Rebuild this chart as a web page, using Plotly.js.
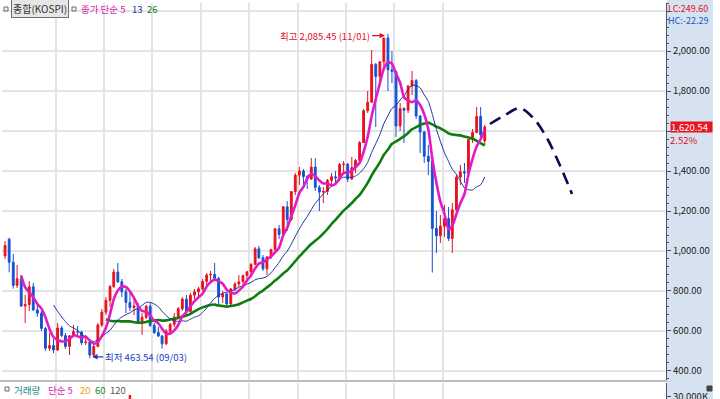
<!DOCTYPE html>
<html>
<head>
<meta charset="utf-8">
<script src="https://cdn.plot.ly/plotly-3.0.1.min.js"></script>
<style>html,body{margin:0;padding:0;background:#fff;}#chart{width:720px;height:399px;}</style>
</head>
<body>
<div id="chart"></div>
<script>
// ---- data (monthly KOSPI candles, Dec 1999 - Nov 2009) ----
const months = [
 '1999-12',
 '2000-01','2000-02','2000-03','2000-04','2000-05','2000-06','2000-07','2000-08','2000-09','2000-10','2000-11','2000-12',
 '2001-01','2001-02','2001-03','2001-04','2001-05','2001-06','2001-07','2001-08','2001-09','2001-10','2001-11','2001-12',
 '2002-01','2002-02','2002-03','2002-04','2002-05','2002-06','2002-07','2002-08','2002-09','2002-10','2002-11','2002-12',
 '2003-01','2003-02','2003-03','2003-04','2003-05','2003-06','2003-07','2003-08','2003-09','2003-10','2003-11','2003-12',
 '2004-01','2004-02','2004-03','2004-04','2004-05','2004-06','2004-07','2004-08','2004-09','2004-10','2004-11','2004-12',
 '2005-01','2005-02','2005-03','2005-04','2005-05','2005-06','2005-07','2005-08','2005-09','2005-10','2005-11','2005-12',
 '2006-01','2006-02','2006-03','2006-04','2006-05','2006-06','2006-07','2006-08','2006-09','2006-10','2006-11','2006-12',
 '2007-01','2007-02','2007-03','2007-04','2007-05','2007-06','2007-07','2007-08','2007-09','2007-10','2007-11','2007-12',
 '2008-01','2008-02','2008-03','2008-04','2008-05','2008-06','2008-07','2008-08','2008-09','2008-10','2008-11','2008-12',
 '2009-01','2009-02','2009-03','2009-04','2009-05','2009-06','2009-07','2009-08','2009-09','2009-10','2009-11'
];
const openP = [
 975,
 1059,944,828,861,725,732,821,706,689,613,514,527,
 505,615,577,523,576,597,595,541,545,480,522,630,
 694,753,822,895,846,796,743,717,725,646,669,724,
 628,592,575,536,599,633,670,711,759,698,779,796,
 811,848,880,883,863,770,786,735,810,835,846,878,
 896,933,1011,966,911,970,1008,1111,1083,1221,1158,1297,
 1379,1400,1372,1360,1420,1318,1295,1298,1353,1371,1365,1432,
 1434,1360,1417,1453,1542,1701,1744,1933,1873,1946,2065,1906,
 1897,1625,1712,1704,1825,1852,1675,1595,1474,1448,1113,1076,
 1124,1162,1063,1206,1369,1396,1390,1557,1592,1673,1550
];
const highP = [
 1050,
 1066,985,930,880,780,850,840,740,700,620,590,560,
 640,625,590,580,630,625,600,580,550,540,640,710,
 770,830,910,940,860,810,790,760,740,690,730,740,
 640,620,580,610,640,690,720,770,780,790,810,820,
 860,890,900,940,870,800,790,815,845,880,880,900,
 940,1020,1025,980,975,1010,1115,1130,1225,1250,1300,1390,
 1420,1410,1380,1465,1464,1330,1320,1360,1390,1400,1440,1450,
 1440,1470,1460,1550,1710,1800,2005,1940,1950,2065,2085.45,2000,
 1900,1740,1720,1830,1900,1860,1680,1600,1530,1450,1200,1180,
 1230,1220,1240,1380,1430,1440,1560,1610,1720,1720,1630
];
const lowP = [
 960,
 893,812,815,720,640,700,700,670,600,500,500,490,
 500,570,510,480,570,580,530,530,463.54,475,520,620,
 680,720,815,840,770,690,700,680,640,580,660,620,
 585,570,512,530,580,620,660,700,690,690,760,760,
 800,830,840,860,730,740,720,720,800,820,830,860,
 870,930,960,900,880,960,1000,1060,1080,1100,1150,1280,
 1330,1320,1310,1355,1300,1200,1240,1280,1320,1330,1350,1380,
 1345,1355,1390,1440,1540,1690,1740,1620,1840,1900,1800,1840,
 1570,1600,1540,1690,1780,1660,1490,1440,1380,892,990,1040,
 1070,1050,990,1200,1330,1340,1380,1540,1590,1560,1530
];
const closeP = [
 1028,
 944,828,861,725,732,821,706,689,613,514,527,505,
 615,577,523,576,597,595,541,545,480,522,630,694,
 753,822,895,846,796,743,717,725,646,669,724,628,
 592,575,536,599,633,670,711,759,698,779,796,811,
 848,880,883,863,770,786,735,810,835,846,878,896,
 933,1011,966,911,970,1008,1111,1083,1221,1158,1297,1379,
 1400,1372,1360,1420,1318,1295,1298,1353,1371,1365,1432,1434,
 1360,1417,1453,1542,1701,1744,1933,1873,1946,2065,1906,1897,
 1625,1712,1704,1825,1852,1675,1595,1474,1448,1113,1076,1124,
 1162,1063,1206,1369,1396,1390,1557,1592,1673,1581,1620.54
];
// moving-average lines (종가 단순 5 / 13 / 26)
const ma5 = [null,null,null,null,
 877,818,793,769,735,712,669,610,570,555,
 548,549,559,578,574,566,571,552,537,544,
 574,616,684,759,802,822,820,799,765,725,
 700,696,678,652,638,611,586,587,603,630,
 674,694,723,749,769,786,823,844,857,849,
 836,807,793,787,802,821,853,878,913,937,
 943,958,973,993,1017,1079,1116,1174,1228,1291,
 1321,1362,1386,1374,1353,1338,1337,1327,1336,1364,
 1391,1392,1402,1419,1441,1495,1571,1675,1759,1839,
 1912,1945,1937,1888,1841,1769,1753,1744,1754,1730,
 1684,1609,1461,1341,1247,1185,1108,1126,1185,1239,
 1285,1384,1461,1522,1559,1605];
const ma13 = [null,null,null,null,null,null,null,null,null,null,null,null,
 730,698,670,647,625,615,604,583,571,554,
 547,556,569,588,604,629,654,670,682,691,
 705,713,728,743,743,735,721,699,677,660,
 651,648,651,649,659,669,676,693,715,739,
 764,777,789,794,801,807,819,826,834,843,
 856,862,865,873,891,916,943,975,999,1034,
 1073,1111,1145,1172,1207,1238,1263,1286,1304,1326,
 1337,1358,1369,1368,1369,1375,1389,1411,1443,1493,
 1537,1582,1636,1677,1713,1728,1755,1777,1806,1829,
 1827,1816,1781,1748,1684,1608,1548,1491,1448,1409,
 1383,1350,1315,1306,1305,1321,1331,1370];
const ma26 = [null,null,null,null,null,null,null,null,null,null,null,null,null,
 null,null,null,null,null,null,null,null,null,null,null,null,
 659,651,649,650,648,648,648,644,642,641,
 645,650,652,655,652,653,657,661,665,671,
 677,686,698,709,718,725,730,732,727,725,
 722,725,729,734,743,752,760,774,789,802,
 818,834,852,868,888,903,926,949,973,994,
 1014,1035,1051,1068,1088,1110,1135,1156,1179,1202,
 1220,1240,1260,1281,1309,1341,1378,1411,1443,1481,
 1507,1536,1548,1561,1573,1590,1609,1619,1630,1637,
 1642,1633,1622,1613,1602,1588,1582,1580,1578,1572,
 1567,1561,1551,1539,1527];
// hand-drawn forecast (dashed)
const fcDates = ['2009-12-24','2010-04-18','2010-08-08','2010-11-30','2011-03-08','2011-06-05','2011-09-05'];
const fcValues = [1635,1680,1715,1655,1555,1430,1285];
// visible tip of the volume panel
const volDates = ['2002-07-15'];
const volValues = [30480];
// price axis ticks
const yTickVals = [400,600,800,1000,1200,1400,1600,1800,2000,2200];
const yTickText = ['400.00','600.00','800.00','1,000.00','1,200.00','1,400.00','','1,800.00','2,000.00',''];
const yearLines = ['2001-01-01','2002-01-01','2003-01-01','2004-01-01','2005-01-01','2006-01-01','2007-01-01','2008-01-01','2009-01-01'];

// ---- drawing ----
const xDates = months.map(m => m + '-15');
const FONT = "'Noto Sans CJK KR','Noto Sans',sans-serif";
const px = p => (p - 2) / 664;
const py = p => (399 - p) / 396;

const RED = '#e8121e', BLUE = '#1452d2';

const traces = [
  {type:'candlestick', x:xDates, open:openP, high:highP, low:lowP, close:closeP,
   increasing:{line:{color:RED,width:1}, fillcolor:RED},
   decreasing:{line:{color:BLUE,width:1}, fillcolor:BLUE},
   whiskerwidth:0, hoverinfo:'skip', showlegend:false},
  {type:'scatter', mode:'lines', x:xDates, y:ma26, line:{color:'#0d7d0d', width:2.6, shape:'spline', smoothing:0.6}, hoverinfo:'skip', showlegend:false},
  {type:'scatter', mode:'lines', x:xDates, y:ma13, line:{color:'#1b2f9e', width:1, shape:'spline', smoothing:0.6}, hoverinfo:'skip', showlegend:false},
  {type:'scatter', mode:'lines', x:xDates, y:ma5, line:{color:'#e31bc4', width:2.6, shape:'spline', smoothing:0.6}, hoverinfo:'skip', showlegend:false},
  {type:'scatter', mode:'lines', x:fcDates, y:fcValues, line:{color:'#0b0b55', width:2.6, dash:'12px,7px', shape:'spline', smoothing:0.8}, hoverinfo:'skip', showlegend:false},
  {type:'bar', x:volDates, y:volValues, yaxis:'y2', marker:{color:RED, line:{width:0}}, width:18*86400000, hoverinfo:'skip', showlegend:false}
];

function txt(text, x, y, color, size, extra) {
  return Object.assign({text:text, xref:'paper', yref:'paper', x:px(x), y:py(y), xanchor:'left', yanchor:'middle',
    showarrow:false, borderpad:0, font:{family:FONT, size:size||9, color:color}}, extra||{});
}

const annotations = [
  txt('종합(KOSPI)', 40, 9, '#333333', 10, {xanchor:'center', bgcolor:'#e6e6e6', bordercolor:'#6e6e6e', borderwidth:1, borderpad:1}),
  txt('종가 단순 5', 80, 9, '#d81ab4', 9.5),
  txt('13', 131, 9, '#1e2f96', 9.5),
  txt('26', 146, 9, '#127a12', 9.5),
  txt('거래량', 13, 389.5, '#1a8c8c', 9.5),
  txt('단순 5', 47, 389.5, '#d81ab4', 9.5),
  txt('20', 79, 389.5, '#f0a010', 9.5),
  txt('60', 94, 389.5, '#128a12', 9.5),
  txt('120', 109, 389.5, '#555555', 9.5),
  txt('3,707,440주(48.39%)', 6, 396, '#333333', 9.5, {yanchor:'top'}),
  txt('<span style="color:#e01020">LC:249.60</span><br><span style="color:#1a5ac8">HC:-22.29</span>', 667, 1, '#e01020', 9,
      {yanchor:'top', align:'left'}),
  txt('2.52%', 669, 139.5, '#e01020', 9.5),
  {text:'1,620.54', xref:'paper', yref:'y', x:px(670), y:1620.54, xanchor:'left', yanchor:'middle', showarrow:false,
   bgcolor:'#e8141e', width:41, height:10, align:'left', borderpad:0, font:{family:FONT, size:9.5, color:'#ffffff'}},
  {text:'최고 2,085.45 (11/01)', x:'2007-10-24', y:2077, xref:'x', yref:'y', ax:-13, ay:0, xanchor:'right', yanchor:'middle',
   showarrow:true, arrowhead:2, arrowsize:0.9, arrowwidth:1.2, arrowcolor:'#e0102a', font:{family:FONT, size:9.5, color:'#e0102a'}},
  {text:'최저 463.54 (09/03)', x:'2001-10-03', y:471, xref:'x', yref:'y', ax:11, ay:0, xanchor:'left', yanchor:'middle',
   showarrow:true, arrowhead:2, arrowsize:0.9, arrowwidth:1.2, arrowcolor:'#1a3cc8', font:{family:FONT, size:9.5, color:'#1a3cc8'}}
];

function icon(x, y) {
  return {type:'rect', xref:'paper', yref:'paper', x0:px(x), x1:px(x+4), y0:py(y+4), y1:py(y),
    fillcolor:'#f4f4f4', line:{color:'#6a6a6a', width:1}};
}

const shapes = [
  {type:'rect', xref:'paper', yref:'paper', x0:px(667), x1:px(713), y0:py(399), y1:py(0), fillcolor:'#d6e2ef', line:{width:0}, layer:'below'},
  {type:'line', xref:'paper', yref:'paper', x0:px(0), x1:px(667), y0:py(381), y1:py(381), line:{color:'#7d7d7d', width:1}},
  icon(4, 7), icon(72, 7), icon(5, 387),
  {type:'rect', xref:'paper', yref:'paper', x0:px(707), x1:px(712), y0:py(391), y1:py(386), fillcolor:'#444444', line:{color:'#444444', width:1}}
];

const layout = {
  width:720, height:399,
  margin:{l:2, r:54, t:3, b:0, pad:0},
  paper_bgcolor:'#ffffff', plot_bgcolor:'#ffffff',
  showlegend:false,
  font:{family:FONT, size:9.5, color:'#1a1a1a'},
  xaxis:{type:'date', range:['1999-11-22','2013-08-15'], tickmode:'array', tickvals:yearLines,
    showticklabels:false, ticks:'', showgrid:true, gridcolor:'#e4e4e4', gridwidth:2, zeroline:false,
    showline:false, rangeslider:{visible:false}, fixedrange:true},
  yaxis:{domain:[0.048,1], range:[355,2240], side:'right', tickmode:'array', tickvals:yTickVals, ticktext:yTickText,
    ticks:'outside', ticklen:4, tickcolor:'#4a5460', showline:true, linecolor:'#4a5460', linewidth:1,
    showgrid:true, gridcolor:'#e4e4e4', gridwidth:2, zeroline:false,
    tickfont:{family:FONT, size:9.5, color:'#1a1a1a'},
    minor:{tickmode:'linear', tick0:0, dtick:40, ticks:'outside', ticklen:2, tickcolor:'#4a5460', showgrid:false}},
  yaxis2:{domain:[0,0.04], range:[29200,34200], side:'right', tickmode:'array', tickvals:[30000], ticktext:['30,000K'],
    ticks:'outside', ticklen:4, tickcolor:'#4a5460', showline:true, linecolor:'#4a5460', linewidth:1,
    ticklabeloverflow:'allow',
    showgrid:false, zeroline:false, tickfont:{family:FONT, size:9.5, color:'#1a1a1a'}},
  annotations:annotations,
  shapes:shapes
};

Plotly.newPlot('chart', traces, layout, {staticPlot:true, displayModeBar:false});
</script>
</body>
</html>
